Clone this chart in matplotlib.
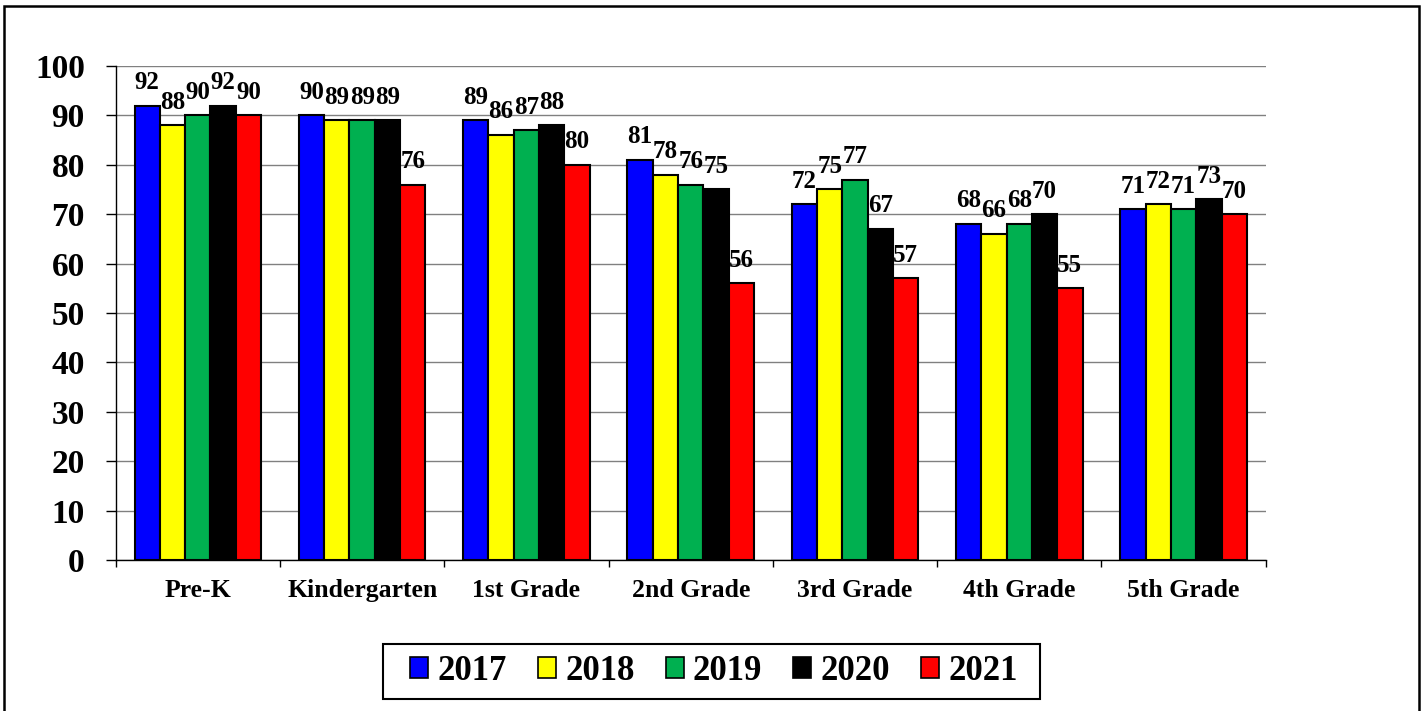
import matplotlib
matplotlib.use("Agg")
import matplotlib.pyplot as plt
import numpy as np
from matplotlib.patches import Rectangle

categories = ["Pre-K", "Kindergarten", "1st Grade", "2nd Grade", "3rd Grade", "4th Grade", "5th Grade"]
years = ["2017", "2018", "2019", "2020", "2021"]
v2017 = [92, 90, 89, 81, 72, 68, 71]
v2018 = [88, 89, 86, 78, 75, 66, 72]
v2019 = [90, 89, 87, 76, 77, 68, 71]
v2020 = [92, 89, 88, 75, 67, 70, 73]
v2021 = [90, 76, 80, 56, 57, 55, 70]
series = [v2017, v2018, v2019, v2020, v2021]
colors = ["#0000FF", "#FFFF00", "#00B050", "#000000", "#FF0000"]

plt.rcParams['font.family'] = ['Liberation Serif', 'DejaVu Serif']

fig = plt.figure(figsize=(14.26, 7.11), dpi=100)
W, H = 1426, 711
ax = fig.add_axes([115.7 / W, 1 - 560 / H, (1265.7 - 115.7) / W, (560 - 66) / H])

x = np.arange(len(categories))
bw = 0.154
for i, (vals, c, yr) in enumerate(zip(series, colors, years)):
    pos = x + (i - 2) * bw
    ax.bar(pos, vals, width=bw, color=c, edgecolor="black", linewidth=1.5, label=yr, zorder=3)
    for px, v in zip(pos, vals):
        ax.annotate(str(v), (px, v), xytext=(0, 12), textcoords="offset points",
                    ha="center", va="baseline", fontsize=18, fontweight="bold", zorder=4)

ax.set_xlim(-0.5, len(categories) - 0.5)
ax.set_ylim(0, 100)
ax.set_yticks(range(0, 101, 10))
ax.set_yticklabels([str(t) for t in range(0, 101, 10)], fontsize=24, fontweight="bold")
ax.set_xticks(x)
ax.set_xticklabels(categories, fontsize=18.5, fontweight="bold")
ax.set_xticks(np.arange(-0.5, len(categories) + 0.5, 1), minor=True)
ax.tick_params(axis="x", which="major", length=0, pad=14)
ax.tick_params(axis="x", which="minor", length=5, width=1, direction="out")
ax.tick_params(axis="y", length=7.2, width=1, direction="out", pad=15)
ax.yaxis.grid(True, color="#808080", linewidth=1, zorder=0)
ax.set_axisbelow(True)
for s in ["top", "right"]:
    ax.spines[s].set_visible(False)
ax.spines["left"].set_linewidth(1)
ax.spines["bottom"].set_linewidth(1)

leg = fig.legend(loc="center", bbox_to_anchor=(714 / W, 1 - 671.5 / H), ncol=5,
                 prop={"size": 25, "weight": "bold"}, frameon=False,
                 handlelength=0.52, handleheight=0.55, handletextpad=0.26,
                 columnspacing=0.9, borderpad=0.2)
for h in leg.legend_handles:
    h.set_linewidth(1.2)

fig.patches.append(Rectangle((383 / W, 1 - 699 / H), (1040 - 383) / W, (699 - 644) / H,
                             transform=fig.transFigure, fill=False, edgecolor="black", linewidth=1.5))
fig.patches.append(Rectangle((4 / W, -0.01), (1419 - 4) / W, 1 - 6 / H + 0.01, transform=fig.transFigure,
                             fill=False, edgecolor="black", linewidth=1.8))

fig.savefig("out.png", dpi=100)
